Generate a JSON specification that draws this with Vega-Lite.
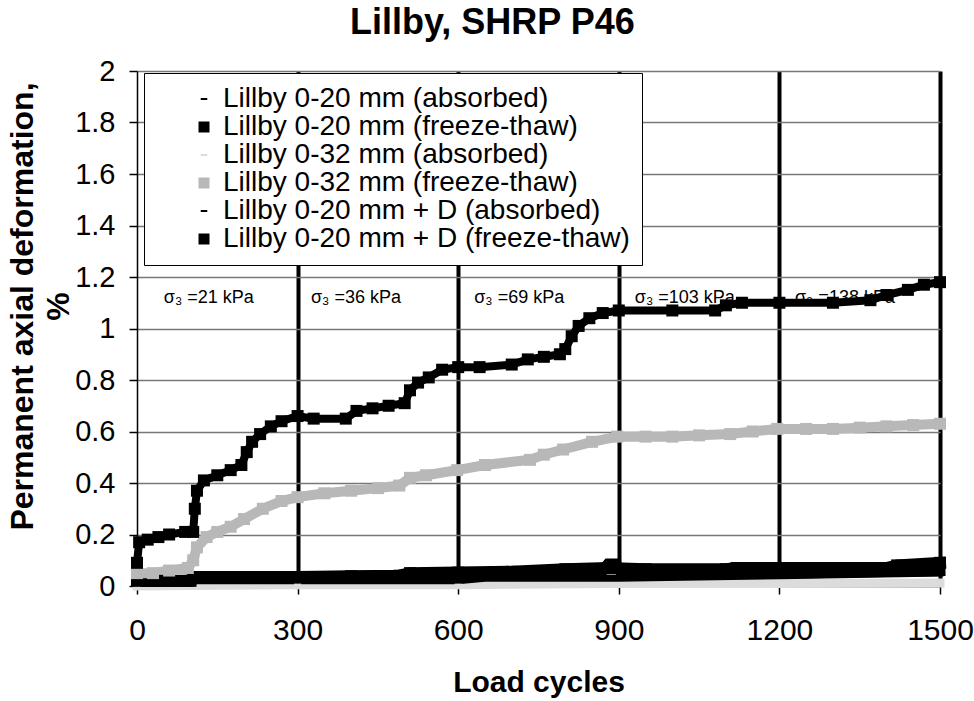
{
  "$schema": "https://vega.github.io/schema/vega-lite/v6.json",
  "autosize": "none",
  "width": 803,
  "height": 515,
  "padding": {"left": 137, "top": 71, "right": 34, "bottom": 115},
  "background": "white",
  "title": {
    "text": "Lillby, SHRP P46",
    "font": "Liberation Sans",
    "fontSize": 36,
    "fontWeight": "bold",
    "color": "black",
    "anchor": "start",
    "frame": "group",
    "dx": 213,
    "offset": 15
  },
  "config": {
    "view": {"stroke": null},
    "font": "Liberation Sans",
    "legend": {
      "padding": 12,
      "labelLimit": 700,
      "labelFont": "Liberation Sans",
      "labelFontSize": 28,
      "labelColor": "black",
      "labelOffset": 5,
      "symbolOffset": 34,
      "rowPadding": -3,
      "symbolSize": 121,
      "symbolStrokeWidth": 0,
      "strokeColor": "black",
      "fillColor": "white"
    }
  },
  "datasets": {
    "notes": [
      {"cycles": 50, "def": 1.12, "label": "σ₃ =21 kPa"},
      {"cycles": 325, "def": 1.12, "label": "σ₃  =36 kPa"},
      {"cycles": 630, "def": 1.12, "label": "σ₃  =69 kPa"},
      {"cycles": 930, "def": 1.12, "label": "σ₃  =103 kPa"},
      {"cycles": 1229, "def": 1.12, "label": "σ₃  =138 kPa"}
    ],
    "series": [
      {"series": "Lillby 0-32 mm (absorbed)", "cycles": 0, "def": 0.0},
      {"series": "Lillby 0-32 mm (absorbed)", "cycles": 300, "def": 0.005},
      {"series": "Lillby 0-32 mm (absorbed)", "cycles": 600, "def": 0.005},
      {"series": "Lillby 0-32 mm (absorbed)", "cycles": 900, "def": 0.01},
      {"series": "Lillby 0-32 mm (absorbed)", "cycles": 1200, "def": 0.01},
      {"series": "Lillby 0-32 mm (absorbed)", "cycles": 1500, "def": 0.012},

      {"series": "Lillby 0-20 mm (absorbed)", "cycles": 0, "def": 0.01},
      {"series": "Lillby 0-20 mm (absorbed)", "cycles": 100, "def": 0.01},
      {"series": "Lillby 0-20 mm (absorbed)", "cycles": 110, "def": 0.02},
      {"series": "Lillby 0-20 mm (absorbed)", "cycles": 300, "def": 0.02},
      {"series": "Lillby 0-20 mm (absorbed)", "cycles": 600, "def": 0.02},
      {"series": "Lillby 0-20 mm (absorbed)", "cycles": 650, "def": 0.03},
      {"series": "Lillby 0-20 mm (absorbed)", "cycles": 900, "def": 0.03},
      {"series": "Lillby 0-20 mm (absorbed)", "cycles": 1200, "def": 0.04},
      {"series": "Lillby 0-20 mm (absorbed)", "cycles": 1500, "def": 0.05},

      {"series": "Lillby 0-20 mm + D (absorbed)", "cycles": 0, "def": 0.02},
      {"series": "Lillby 0-20 mm + D (absorbed)", "cycles": 100, "def": 0.02},
      {"series": "Lillby 0-20 mm + D (absorbed)", "cycles": 110, "def": 0.03},
      {"series": "Lillby 0-20 mm + D (absorbed)", "cycles": 500, "def": 0.04},
      {"series": "Lillby 0-20 mm + D (absorbed)", "cycles": 870, "def": 0.06},
      {"series": "Lillby 0-20 mm + D (absorbed)", "cycles": 880, "def": 0.085},
      {"series": "Lillby 0-20 mm + D (absorbed)", "cycles": 895, "def": 0.085},
      {"series": "Lillby 0-20 mm + D (absorbed)", "cycles": 905, "def": 0.05},
      {"series": "Lillby 0-20 mm + D (absorbed)", "cycles": 1200, "def": 0.05},
      {"series": "Lillby 0-20 mm + D (absorbed)", "cycles": 1500, "def": 0.06},

      {"series": "Lillby 0-20 mm + D (freeze-thaw)", "cycles": 0, "def": 0.02},
      {"series": "Lillby 0-20 mm + D (freeze-thaw)", "cycles": 50, "def": 0.02},
      {"series": "Lillby 0-20 mm + D (freeze-thaw)", "cycles": 100, "def": 0.02},
      {"series": "Lillby 0-20 mm + D (freeze-thaw)", "cycles": 105, "def": 0.035},
      {"series": "Lillby 0-20 mm + D (freeze-thaw)", "cycles": 200, "def": 0.035},
      {"series": "Lillby 0-20 mm + D (freeze-thaw)", "cycles": 300, "def": 0.035},
      {"series": "Lillby 0-20 mm + D (freeze-thaw)", "cycles": 400, "def": 0.038},
      {"series": "Lillby 0-20 mm + D (freeze-thaw)", "cycles": 490, "def": 0.04},
      {"series": "Lillby 0-20 mm + D (freeze-thaw)", "cycles": 510, "def": 0.05},
      {"series": "Lillby 0-20 mm + D (freeze-thaw)", "cycles": 600, "def": 0.052},
      {"series": "Lillby 0-20 mm + D (freeze-thaw)", "cycles": 700, "def": 0.055},
      {"series": "Lillby 0-20 mm + D (freeze-thaw)", "cycles": 800, "def": 0.065},
      {"series": "Lillby 0-20 mm + D (freeze-thaw)", "cycles": 880, "def": 0.07},
      {"series": "Lillby 0-20 mm + D (freeze-thaw)", "cycles": 950, "def": 0.065},
      {"series": "Lillby 0-20 mm + D (freeze-thaw)", "cycles": 1100, "def": 0.065},
      {"series": "Lillby 0-20 mm + D (freeze-thaw)", "cycles": 1120, "def": 0.07},
      {"series": "Lillby 0-20 mm + D (freeze-thaw)", "cycles": 1250, "def": 0.07},
      {"series": "Lillby 0-20 mm + D (freeze-thaw)", "cycles": 1400, "def": 0.07},
      {"series": "Lillby 0-20 mm + D (freeze-thaw)", "cycles": 1420, "def": 0.08},
      {"series": "Lillby 0-20 mm + D (freeze-thaw)", "cycles": 1500, "def": 0.09},

      {"series": "Lillby 0-32 mm (freeze-thaw)", "cycles": 0, "def": 0.05},
      {"series": "Lillby 0-32 mm (freeze-thaw)", "cycles": 30, "def": 0.05},
      {"series": "Lillby 0-32 mm (freeze-thaw)", "cycles": 60, "def": 0.06},
      {"series": "Lillby 0-32 mm (freeze-thaw)", "cycles": 95, "def": 0.07},
      {"series": "Lillby 0-32 mm (freeze-thaw)", "cycles": 105, "def": 0.1},
      {"series": "Lillby 0-32 mm (freeze-thaw)", "cycles": 112, "def": 0.15},
      {"series": "Lillby 0-32 mm (freeze-thaw)", "cycles": 130, "def": 0.19},
      {"series": "Lillby 0-32 mm (freeze-thaw)", "cycles": 150, "def": 0.21},
      {"series": "Lillby 0-32 mm (freeze-thaw)", "cycles": 175, "def": 0.23},
      {"series": "Lillby 0-32 mm (freeze-thaw)", "cycles": 200, "def": 0.26},
      {"series": "Lillby 0-32 mm (freeze-thaw)", "cycles": 235, "def": 0.3},
      {"series": "Lillby 0-32 mm (freeze-thaw)", "cycles": 270, "def": 0.33},
      {"series": "Lillby 0-32 mm (freeze-thaw)", "cycles": 300, "def": 0.345},
      {"series": "Lillby 0-32 mm (freeze-thaw)", "cycles": 350, "def": 0.36},
      {"series": "Lillby 0-32 mm (freeze-thaw)", "cycles": 400, "def": 0.37},
      {"series": "Lillby 0-32 mm (freeze-thaw)", "cycles": 450, "def": 0.38},
      {"series": "Lillby 0-32 mm (freeze-thaw)", "cycles": 490, "def": 0.39},
      {"series": "Lillby 0-32 mm (freeze-thaw)", "cycles": 510, "def": 0.42},
      {"series": "Lillby 0-32 mm (freeze-thaw)", "cycles": 540, "def": 0.43},
      {"series": "Lillby 0-32 mm (freeze-thaw)", "cycles": 598, "def": 0.45},
      {"series": "Lillby 0-32 mm (freeze-thaw)", "cycles": 650, "def": 0.47},
      {"series": "Lillby 0-32 mm (freeze-thaw)", "cycles": 734, "def": 0.49},
      {"series": "Lillby 0-32 mm (freeze-thaw)", "cycles": 760, "def": 0.51},
      {"series": "Lillby 0-32 mm (freeze-thaw)", "cycles": 796, "def": 0.53},
      {"series": "Lillby 0-32 mm (freeze-thaw)", "cycles": 850, "def": 0.56},
      {"series": "Lillby 0-32 mm (freeze-thaw)", "cycles": 897, "def": 0.58},
      {"series": "Lillby 0-32 mm (freeze-thaw)", "cycles": 950, "def": 0.58},
      {"series": "Lillby 0-32 mm (freeze-thaw)", "cycles": 1000, "def": 0.58},
      {"series": "Lillby 0-32 mm (freeze-thaw)", "cycles": 1050, "def": 0.585},
      {"series": "Lillby 0-32 mm (freeze-thaw)", "cycles": 1108, "def": 0.59},
      {"series": "Lillby 0-32 mm (freeze-thaw)", "cycles": 1150, "def": 0.6},
      {"series": "Lillby 0-32 mm (freeze-thaw)", "cycles": 1196, "def": 0.61},
      {"series": "Lillby 0-32 mm (freeze-thaw)", "cycles": 1250, "def": 0.61},
      {"series": "Lillby 0-32 mm (freeze-thaw)", "cycles": 1300, "def": 0.61},
      {"series": "Lillby 0-32 mm (freeze-thaw)", "cycles": 1350, "def": 0.615},
      {"series": "Lillby 0-32 mm (freeze-thaw)", "cycles": 1400, "def": 0.62},
      {"series": "Lillby 0-32 mm (freeze-thaw)", "cycles": 1450, "def": 0.625},
      {"series": "Lillby 0-32 mm (freeze-thaw)", "cycles": 1500, "def": 0.63},

      {"series": "Lillby 0-20 mm (freeze-thaw)", "cycles": 0, "def": 0.09},
      {"series": "Lillby 0-20 mm (freeze-thaw)", "cycles": 4, "def": 0.17},
      {"series": "Lillby 0-20 mm (freeze-thaw)", "cycles": 20, "def": 0.18},
      {"series": "Lillby 0-20 mm (freeze-thaw)", "cycles": 40, "def": 0.19},
      {"series": "Lillby 0-20 mm (freeze-thaw)", "cycles": 60, "def": 0.2},
      {"series": "Lillby 0-20 mm (freeze-thaw)", "cycles": 90, "def": 0.21},
      {"series": "Lillby 0-20 mm (freeze-thaw)", "cycles": 105, "def": 0.21},
      {"series": "Lillby 0-20 mm (freeze-thaw)", "cycles": 108, "def": 0.3},
      {"series": "Lillby 0-20 mm (freeze-thaw)", "cycles": 112, "def": 0.37},
      {"series": "Lillby 0-20 mm (freeze-thaw)", "cycles": 125, "def": 0.41},
      {"series": "Lillby 0-20 mm (freeze-thaw)", "cycles": 150, "def": 0.43},
      {"series": "Lillby 0-20 mm (freeze-thaw)", "cycles": 175, "def": 0.45},
      {"series": "Lillby 0-20 mm (freeze-thaw)", "cycles": 195, "def": 0.47},
      {"series": "Lillby 0-20 mm (freeze-thaw)", "cycles": 205, "def": 0.52},
      {"series": "Lillby 0-20 mm (freeze-thaw)", "cycles": 215, "def": 0.56},
      {"series": "Lillby 0-20 mm (freeze-thaw)", "cycles": 230, "def": 0.59},
      {"series": "Lillby 0-20 mm (freeze-thaw)", "cycles": 250, "def": 0.62},
      {"series": "Lillby 0-20 mm (freeze-thaw)", "cycles": 270, "def": 0.64},
      {"series": "Lillby 0-20 mm (freeze-thaw)", "cycles": 300, "def": 0.66},
      {"series": "Lillby 0-20 mm (freeze-thaw)", "cycles": 330, "def": 0.65},
      {"series": "Lillby 0-20 mm (freeze-thaw)", "cycles": 390, "def": 0.65},
      {"series": "Lillby 0-20 mm (freeze-thaw)", "cycles": 410, "def": 0.68},
      {"series": "Lillby 0-20 mm (freeze-thaw)", "cycles": 440, "def": 0.69},
      {"series": "Lillby 0-20 mm (freeze-thaw)", "cycles": 470, "def": 0.7},
      {"series": "Lillby 0-20 mm (freeze-thaw)", "cycles": 500, "def": 0.71},
      {"series": "Lillby 0-20 mm (freeze-thaw)", "cycles": 510, "def": 0.76},
      {"series": "Lillby 0-20 mm (freeze-thaw)", "cycles": 525, "def": 0.79},
      {"series": "Lillby 0-20 mm (freeze-thaw)", "cycles": 545, "def": 0.81},
      {"series": "Lillby 0-20 mm (freeze-thaw)", "cycles": 570, "def": 0.84},
      {"series": "Lillby 0-20 mm (freeze-thaw)", "cycles": 600, "def": 0.85},
      {"series": "Lillby 0-20 mm (freeze-thaw)", "cycles": 640, "def": 0.85},
      {"series": "Lillby 0-20 mm (freeze-thaw)", "cycles": 700, "def": 0.86},
      {"series": "Lillby 0-20 mm (freeze-thaw)", "cycles": 730, "def": 0.88},
      {"series": "Lillby 0-20 mm (freeze-thaw)", "cycles": 760, "def": 0.89},
      {"series": "Lillby 0-20 mm (freeze-thaw)", "cycles": 790, "def": 0.9},
      {"series": "Lillby 0-20 mm (freeze-thaw)", "cycles": 800, "def": 0.92},
      {"series": "Lillby 0-20 mm (freeze-thaw)", "cycles": 812, "def": 0.97},
      {"series": "Lillby 0-20 mm (freeze-thaw)", "cycles": 825, "def": 1.01},
      {"series": "Lillby 0-20 mm (freeze-thaw)", "cycles": 845, "def": 1.04},
      {"series": "Lillby 0-20 mm (freeze-thaw)", "cycles": 870, "def": 1.06},
      {"series": "Lillby 0-20 mm (freeze-thaw)", "cycles": 900, "def": 1.07},
      {"series": "Lillby 0-20 mm (freeze-thaw)", "cycles": 1000, "def": 1.07},
      {"series": "Lillby 0-20 mm (freeze-thaw)", "cycles": 1080, "def": 1.07},
      {"series": "Lillby 0-20 mm (freeze-thaw)", "cycles": 1100, "def": 1.09},
      {"series": "Lillby 0-20 mm (freeze-thaw)", "cycles": 1130, "def": 1.1},
      {"series": "Lillby 0-20 mm (freeze-thaw)", "cycles": 1200, "def": 1.1},
      {"series": "Lillby 0-20 mm (freeze-thaw)", "cycles": 1300, "def": 1.1},
      {"series": "Lillby 0-20 mm (freeze-thaw)", "cycles": 1370, "def": 1.11},
      {"series": "Lillby 0-20 mm (freeze-thaw)", "cycles": 1400, "def": 1.13},
      {"series": "Lillby 0-20 mm (freeze-thaw)", "cycles": 1440, "def": 1.15},
      {"series": "Lillby 0-20 mm (freeze-thaw)", "cycles": 1470, "def": 1.17},
      {"series": "Lillby 0-20 mm (freeze-thaw)", "cycles": 1500, "def": 1.18}
    ]
  },
  "encoding": {
    "x": {
      "field": "cycles",
      "type": "quantitative",
      "scale": {"domain": [0, 1500], "nice": false, "zero": false},
      "axis": {
        "values": [0, 300, 600, 900, 1200, 1500],
        "format": "d",
        "grid": true,
        "gridColor": {"condition": {"test": "datum.value === 0", "value": "transparent"}, "value": "black"},
        "gridWidth": 4,
        "gridOpacity": 1,
        "domainColor": "black",
        "domainWidth": 1.5,
        "tickColor": "black",
        "tickSize": 8,
        "tickWidth": 1.5,
        "labelFont": "Liberation Sans",
        "labelFontSize": 30,
        "labelColor": "black",
        "labelPadding": 21,
        "labelFlush": false,
        "title": "Load cycles",
        "titleFont": "Liberation Sans",
        "titleFontSize": 30,
        "titleFontWeight": "bold",
        "titleColor": "black",
        "titlePadding": 22
      }
    },
    "y": {
      "field": "def",
      "type": "quantitative",
      "scale": {"domain": [0, 2], "nice": false},
      "axis": {
        "values": [0, 0.2, 0.4, 0.6, 0.8, 1, 1.2, 1.4, 1.6, 1.8, 2],
        "format": "~g",
        "grid": true,
        "gridColor": "#777777",
        "gridWidth": 1.5,
        "gridOpacity": 1,
        "domainColor": "black",
        "domainWidth": 1.5,
        "tickColor": "black",
        "tickSize": 8,
        "tickWidth": 1.5,
        "labelFont": "Liberation Sans",
        "labelFontSize": 29,
        "labelColor": "black",
        "labelPadding": 14,
        "labelFlush": false,
        "title": ["Permanent axial deformation,", "%"],
        "titleFont": "Liberation Sans",
        "titleFontSize": 32,
        "titleFontWeight": "bold",
        "titleColor": "black",
        "titleLineHeight": 36,
        "titleY": 235,
        "titleX": -98
      }
    }
  },
  "layer": [
    {
      "data": {"name": "notes"},
      "mark": {"type": "text", "align": "left", "baseline": "middle", "font": "Liberation Sans", "fontSize": 18, "color": "black"},
      "encoding": {"text": {"field": "label"}}
    },
    {
      "data": {"name": "series"},
      "mark": {"type": "line", "interpolate": "linear", "strokeCap": "square", "strokeJoin": "miter"},
      "encoding": {
        "detail": {"field": "series"},
        "stroke": {
          "field": "series",
          "type": "nominal",
          "legend": null,
          "scale": {
            "domain": ["Lillby 0-20 mm + D (freeze-thaw)", "Lillby 0-20 mm + D (absorbed)", "Lillby 0-32 mm (freeze-thaw)", "Lillby 0-32 mm (absorbed)", "Lillby 0-20 mm (freeze-thaw)", "Lillby 0-20 mm (absorbed)"],
            "range": ["#000000", "#000000", "#b8b8b8", "#dcdcdc", "#000000", "#000000"]
          }
        },
        "strokeWidth": {
          "field": "series",
          "type": "nominal",
          "legend": null,
          "scale": {
            "domain": ["Lillby 0-20 mm + D (freeze-thaw)", "Lillby 0-20 mm + D (absorbed)", "Lillby 0-32 mm (freeze-thaw)", "Lillby 0-32 mm (absorbed)", "Lillby 0-20 mm (freeze-thaw)", "Lillby 0-20 mm (absorbed)"],
            "range": [12, 7, 11, 4, 12, 7]
          }
        },
        "order": {"field": "cycles", "type": "quantitative"}
      }
    },
    {
      "data": {"name": "series"},
      "mark": {"type": "point", "filled": true, "opacity": 1, "size": 144, "strokeWidth": 0},
      "encoding": {
        "color": {
          "field": "series",
          "type": "nominal",
          "title": null,
          "scale": {
            "domain": ["Lillby 0-20 mm (absorbed)", "Lillby 0-20 mm (freeze-thaw)", "Lillby 0-32 mm (absorbed)", "Lillby 0-32 mm (freeze-thaw)", "Lillby 0-20 mm + D (absorbed)", "Lillby 0-20 mm + D (freeze-thaw)"],
            "range": ["#000000", "#000000", "#dcdcdc", "#b8b8b8", "#000000", "#000000"]
          },
          "legend": {"orient": "none", "legendX": 7, "legendY": 2}
        },
        "shape": {
          "field": "series",
          "type": "nominal",
          "title": null,
          "scale": {
            "domain": ["Lillby 0-20 mm (absorbed)", "Lillby 0-20 mm (freeze-thaw)", "Lillby 0-32 mm (absorbed)", "Lillby 0-32 mm (freeze-thaw)", "Lillby 0-20 mm + D (absorbed)", "Lillby 0-20 mm + D (freeze-thaw)"],
            "range": ["M-0.6,-0.18H0.6V0.18H-0.6Z", "square", "M-0.6,-0.18H0.6V0.18H-0.6Z", "square", "M-0.6,-0.18H0.6V0.18H-0.6Z", "square"]
          },
          "legend": {"orient": "none", "legendX": 7, "legendY": 2}
        }
      }
    }
  ]
}
